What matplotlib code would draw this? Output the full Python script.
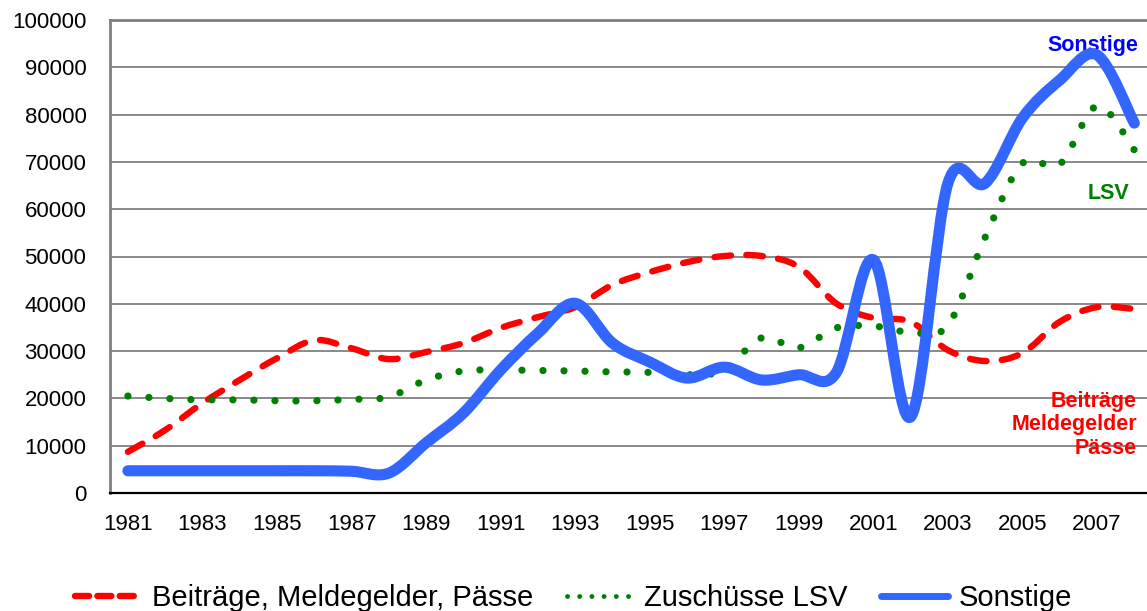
import matplotlib
matplotlib.use("Agg")
import matplotlib.pyplot as plt
import numpy as np
from matplotlib.path import Path
from matplotlib.patches import PathPatch
from matplotlib.lines import Line2D

plt.rcParams['font.family'] = ['Liberation Sans', 'DejaVu Sans']

years = list(range(1981, 2009))
beitraege = [8700, 13300, 19000, 23900, 28500, 32300, 30600, 28300, 29800, 31700,
             34900, 37200, 39300, 44000, 46700, 48800, 50100, 50100, 47800, 40100,
             37000, 36200, 30200, 27900, 29600, 36200, 39300, 38900]
lsv = [20500, 20000, 19700, 19700, 19500, 19500, 19800, 20300, 23900, 25800,
       26000, 25900, 25800, 25600, 25500, 25000, 26000, 32800, 30700, 34900,
       35300, 34000, 35500, 54100, 69700, 69500, 81800, 72500]
sonstige = [4700, 4700, 4700, 4700, 4700, 4700, 4600, 4200, 10600, 16900,
            26000, 33800, 40100, 31700, 27700, 24300, 26600, 23900, 25000, 25400,
            49300, 16100, 65500, 65500, 79300, 87300, 92600, 78200]
x_ticks = list(range(1981, 2009, 2))
y_ticks = list(range(0, 100001, 10000))
legend_labels = ['Beiträge, Meldegelder, Pässe', 'Zuschüsse LSV', 'Sonstige']

RED = '#FF0000'
GREEN = '#008000'
BLUE = '#3366FF'


def smooth_path(x, y):
    p = np.column_stack([np.asarray(x, float), np.asarray(y, float)])
    n = len(p)
    verts = [p[0]]
    codes = [Path.MOVETO]
    for i in range(n - 1):
        p0 = p[i - 1] if i > 0 else p[i]
        p1 = p[i]
        p2 = p[i + 1]
        p3 = p[i + 2] if i + 2 < n else p[i + 1]
        c1 = p1 + (p2 - p0) / 6.0
        c2 = p2 - (p3 - p1) / 6.0
        verts += [c1, c2, p2]
        codes += [Path.CURVE4] * 3
    return Path(np.array(verts), codes)


fig = plt.figure(figsize=(11.47, 6.11), dpi=100)
ax = fig.add_axes([110 / 1147, 1 - 493 / 611, 1 - 110 / 1147, (493 - 20) / 611])
ax.set_xlim(1980.52, 2008.34)
ax.set_ylim(0, 100000)

for yv in y_ticks[1:]:
    ax.axhline(yv, color='#808080', lw=1.3, zorder=1)

red_ls = (0, (2.6, 2.4))
green_ls = (0, (0.01, 2.9))

ax.add_patch(PathPatch(smooth_path(years, beitraege), fill=False, edgecolor=RED,
                       lw=4.6, linestyle=red_ls, capstyle='round', zorder=3))
ax.add_patch(PathPatch(smooth_path(years, lsv), fill=False, edgecolor=GREEN,
                       lw=5.2, linestyle=green_ls, capstyle='round', zorder=3))
ax.add_patch(PathPatch(smooth_path(years, sonstige), fill=False, edgecolor=BLUE,
                       lw=8, capstyle='round', joinstyle='round', zorder=4))

ax.set_xticks(x_ticks)
ax.set_xticklabels([str(v) for v in x_ticks], fontsize=16)
ax.set_yticks(y_ticks)
ax.set_yticklabels([str(v) for v in y_ticks], fontsize=16)
ax.tick_params(axis='both', length=0)
ax.tick_params(axis='x', pad=15)
ax.tick_params(axis='y', pad=17)

for s in ['top', 'left']:
    ax.spines[s].set_color('#808080')
    ax.spines[s].set_linewidth(2)
ax.spines['right'].set_visible(False)
ax.spines['bottom'].set_color('black')
ax.spines['bottom'].set_linewidth(1.6)

ax.text(2008.12, 94700, 'Sonstige', color='#0000FF', fontsize=15.5, fontweight='bold',
        ha='right', va='center')
ax.text(2007.3, 63400, 'LSV', color=GREEN, fontsize=15.5, fontweight='bold',
        ha='center', va='center')
ax.text(2008.07, 14400, 'Beiträge\nMeldegelder\nPässe', color=RED, fontsize=15.5,
        fontweight='bold', ha='right', va='center', linespacing=1.15)

handles = [
    Line2D([], [], color=RED, lw=4.6, linestyle=(0, (2.2, 1.3)), dash_capstyle='round'),
    Line2D([], [], color=GREEN, lw=3.5, linestyle=(0, (0.01, 2.5)), dash_capstyle='round'),
    Line2D([], [], color=BLUE, lw=5, solid_capstyle='round'),
]
fig.legend(handles, legend_labels, loc='lower center', bbox_to_anchor=(0.5, -0.045),
           ncol=3, frameon=False, fontsize=21, handlelength=2.3, handletextpad=0.35,
           columnspacing=1.15)

fig.savefig('out.png', dpi=100)
